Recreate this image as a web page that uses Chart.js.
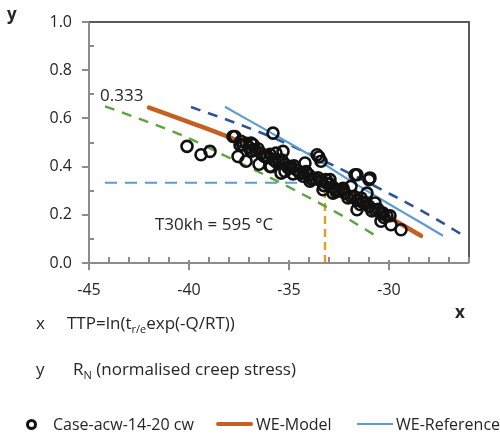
<!DOCTYPE html>
<html><head><meta charset="utf-8">
<script src="https://cdn.jsdelivr.net/npm/chart.js@4.4.0/dist/chart.umd.min.js"></script>
<style>
html,body{margin:0;padding:0;background:#fff;}
#wrap{position:relative;width:500px;height:435px;font-family:"Open Sans",sans-serif;color:#262626;overflow:hidden;}
#c{position:absolute;left:0;top:0;}
.t{position:absolute;white-space:nowrap;font-size:17px;line-height:20px;}
.lg{font-size:16px;}
.b{font-weight:bold;}
sub{font-size:11px;vertical-align:-4px;line-height:0;}
.lm{position:absolute;}
</style></head>
<body>
<div id="wrap">
<canvas id="c" width="500" height="435"></canvas>
<div class="t b" style="left:7px;top:4px;font-size:17px;">y</div>
<div class="t b" style="left:455px;top:302px;font-size:17px;">x</div>
<div class="t" style="left:36px;top:313px;">x</div>
<div class="t" style="left:67px;top:313px;">TTP=ln(t<sub>r/e</sub>exp(-Q/RT))</div>
<div class="t" style="left:36px;top:359px;">y</div>
<div class="t" style="left:73px;top:359px;">R<sub>N</sub> (normalised creep stress)</div>
<div class="lm" style="left:26px;top:419px;width:11px;height:11px;border:3px solid #111;border-radius:50%;box-sizing:border-box;"></div>
<div class="t lg" style="left:53px;top:414px;">Case-acw-14-20 cw</div>
<div class="lm" style="left:216px;top:422px;width:37px;height:4px;background:#C65F22;border-radius:2px;"></div>
<div class="t lg" style="left:256px;top:414px;">WE-Model</div>
<div class="lm" style="left:357px;top:423px;width:36px;height:2px;background:#5B9BD5;"></div>
<div class="t lg" style="left:396px;top:414px;">WE-Reference</div>
</div>
<script>
// ---- data ----
const caseX = [-40.1,-39.4,-38.95,-37.7,-37.4,-37.55,-37.15,-36.9,-36.8,-36.2,-35.65,-35.3,-35.95,-35.4,-34.95,-34.2,-33.6,-33.4,-33.95,-33.3,-32.8,-32.95,
  -31.6,-30.95,-31.9,-30.7,-31.1,-31.6,-30.3,-29.9,-29.4,-30.4,-32.65,-33.15,-35.8,-37.8,-36.9,-33.5,-31.7,-31.0,
  -37.3,-37.0,-36.7,-36.4,-36.1,-35.8,-35.5,-35.2,-34.9,-34.6,-34.3,-34.0,-33.7,-33.4,-33.1,-32.8,-32.5,-32.2,-31.9,-31.6,-31.3,-31.0,-30.7,-30.4,-30.1,
  -36.5,-35.9,-35.2,-34.8,-34.3,-32.3,-31.4,
  -37.45,-37.15,-36.85,-36.55,-36.25,-35.95,-35.65,-35.35,-35.05,-34.75,-34.45,-34.15,-33.85,-33.55,-33.25,-32.95,-32.65,-32.35,-32.05,-31.75,-31.45,-31.15,-30.85,-30.55,-30.25,-29.95];
const caseY = [0.484,0.449,0.463,0.525,0.505,0.442,0.422,0.463,0.491,0.442,0.456,0.463,0.401,0.373,0.394,0.415,0.449,0.422,0.339,0.304,0.29,0.346,
  0.366,0.353,0.318,0.249,0.29,0.221,0.207,0.159,0.138,0.173,0.304,0.346,0.539,0.525,0.498,0.44,0.366,0.346,
  0.49,0.48,0.47,0.455,0.445,0.43,0.425,0.41,0.40,0.385,0.375,0.365,0.35,0.34,0.33,0.315,0.30,0.29,0.275,0.26,0.25,0.235,0.22,0.205,0.195,
  0.41,0.40,0.38,0.37,0.36,0.31,0.27,
  0.49,0.497,0.466,0.474,0.443,0.451,0.419,0.427,0.395,0.403,0.371,0.379,0.347,0.354,0.321,0.328,0.296,0.303,0.27,0.277,0.243,0.25,0.216,0.223,0.189,0.196];
const modelX = [-42.0,-40.0,-38.0,-36.0,-34.0,-32.0,-30.0,-28.4];
const modelY = [0.645,0.585,0.522,0.445,0.365,0.28,0.19,0.113];
const refX = [-38.2,-36.0,-34.0,-32.0,-30.0,-28.5,-27.3];
const refY = [0.648,0.545,0.45,0.345,0.245,0.172,0.113];
const upperX = [-39.9,-37.8,-35.8,-33.8,-31.8,-29.8,-27.8,-26.2];
const upperY = [0.647,0.585,0.52,0.445,0.365,0.28,0.19,0.11];
const lowerX = [-44.2,-42.2,-40.2,-38.2,-36.2,-34.2,-32.2,-30.6];
const lowerY = [0.65,0.59,0.525,0.445,0.365,0.28,0.19,0.11];
const rnLevel = 0.333;
const ttpAt595 = -33.2;
const hLineX = [-44.2, ttpAt595];
const vLineY = [0, rnLevel];
const xTickValues = [-45,-40,-35,-30];
const xTickLabels = ['-45','-40','-35','-30'];
const yTickValues = [0,0.2,0.4,0.6,0.8,1.0];
const yTickLabels = ['0.0','0.2','0.4','0.6','0.8','1.0'];
const annoLevel = {x:-44.45, y:0.694, text:'0.333'};
const annoTemp = {x:-41.7, y:0.155, text:'T30kh = 595 °C'};

const pts = (xs, ys) => xs.map((v,i)=>({x:v,y:ys[i]}));
const FONT = '16px "Open Sans", sans-serif';
const FONT_ANNO = '17px "Open Sans", sans-serif';

const deco = {
  id:'deco',
  afterDatasetsDraw(chart){
    const {ctx, scales:{x,y}} = chart;
    ctx.save();
    ctx.font = FONT_ANNO; ctx.fillStyle = '#262626'; ctx.textBaseline='middle'; ctx.textAlign='left';
    [annoLevel, annoTemp].forEach(a=>ctx.fillText(a.text, x.getPixelForValue(a.x), y.getPixelForValue(a.y)));
    ctx.restore();
  },
  afterDraw(chart){
    const {ctx, chartArea:a, scales:{x,y}} = chart;
    ctx.save();
    ctx.lineWidth = 2;
    ctx.strokeStyle = '#595959';
    ctx.beginPath(); ctx.moveTo(a.left, a.top); ctx.lineTo(a.right, a.top); ctx.lineTo(a.right, a.bottom); ctx.stroke();
    ctx.strokeStyle = '#8c8c8c';
    ctx.beginPath(); ctx.moveTo(a.left, a.top); ctx.lineTo(a.left, a.bottom); ctx.lineTo(a.right, a.bottom); ctx.stroke();
    const near = (v, arr) => arr.some(t=>Math.abs(t-v)<1e-6);
    x.ticks.forEach(t=>{
      const px = Math.round(x.getPixelForValue(t.value));
      ctx.beginPath();
      if (near(t.value, xTickValues)) { ctx.moveTo(px, a.bottom-3); ctx.lineTo(px, a.bottom+7); }
      else { ctx.moveTo(px, a.bottom-6); ctx.lineTo(px, a.bottom); }
      ctx.stroke();
    });
    y.ticks.forEach(t=>{
      const py = Math.round(y.getPixelForValue(t.value));
      ctx.beginPath();
      if (near(t.value, yTickValues)) { ctx.moveTo(a.left-7, py); ctx.lineTo(a.left, py); }
      else { ctx.moveTo(a.left, py); ctx.lineTo(a.left+5, py); }
      ctx.stroke();
    });
    ctx.font = FONT; ctx.fillStyle = '#262626';
    ctx.textAlign='center'; ctx.textBaseline='middle';
    xTickValues.forEach((v,i)=>ctx.fillText(xTickLabels[i], x.getPixelForValue(v), a.bottom+27));
    ctx.textAlign='right';
    yTickValues.forEach((v,i)=>ctx.fillText(yTickLabels[i], a.left-17, y.getPixelForValue(v)));
    ctx.restore();
  }
};

new Chart(document.getElementById('c'), {
  type:'scatter',
  data:{datasets:[
    {label:'Case-acw-14-20 cw', data:pts(caseX,caseY), order:0, pointRadius:5.5, pointHoverRadius:5.5,
      borderWidth:2.6, pointBorderColor:'#111', pointBackgroundColor:'rgba(0,0,0,0)', showLine:false},
    {label:'WE-Model', data:pts(modelX,modelY), order:2, showLine:true, pointRadius:0, borderColor:'#C65F22', borderWidth:4.5, cubicInterpolationMode:'monotone', borderCapStyle:'round'},
    {label:'WE-Reference', data:pts(refX,refY), order:3, showLine:true, pointRadius:0, borderColor:'#5B9BD5', borderWidth:2.2, cubicInterpolationMode:'monotone'},
    {label:'upper', data:pts(upperX,upperY), order:4, showLine:true, pointRadius:0, borderColor:'#2F5597', borderWidth:2.6, borderDash:[10,8], cubicInterpolationMode:'monotone'},
    {label:'lower', data:pts(lowerX,lowerY), order:5, showLine:true, pointRadius:0, borderColor:'#5FA33E', borderWidth:2.4, borderDash:[10,8], cubicInterpolationMode:'monotone'},
    {label:'level', data:pts(hLineX,[rnLevel,rnLevel]), order:6, showLine:true, pointRadius:0, borderColor:'#5B9BD5', borderWidth:2.2, borderDash:[12,8]},
    {label:'temp', data:pts([ttpAt595,ttpAt595],vLineY), order:7, showLine:true, pointRadius:0, borderColor:'#DDA024', borderWidth:2.4, borderDash:[8,5]}
  ]},
  options:{
    responsive:false, animation:false, devicePixelRatio:1,
    layout:{padding:{left:0,top:22,right:31,bottom:0}},
    plugins:{legend:{display:false}, tooltip:{enabled:false}},
    scales:{
      x:{type:'linear', min:-45, max:-26, ticks:{display:false, stepSize:1}, grid:{display:false, drawTicks:false}, border:{display:false},
         afterFit(s){ s.height = 172; }},
      y:{type:'linear', min:0, max:1, ticks:{display:false, stepSize:0.1}, grid:{display:false, drawTicks:false}, border:{display:false},
         afterFit(s){ s.width = 89; }}
    }
  },
  plugins:[deco]
});
</script>
</body></html>
